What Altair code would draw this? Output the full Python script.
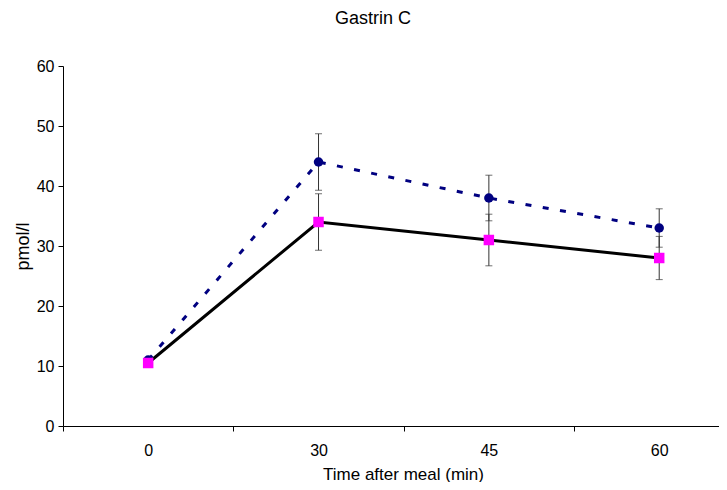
import altair as alt
import pandas as pd

# ---- data ----
times = ["0", "30", "45", "60"]
pos = [0, 1, 2, 3]
blue_mean = [11.0, 44.0, 38.0, 33.0]
blue_err = [0.0, 4.7, 3.8, 3.2]
pink_mean = [10.5, 34.0, 31.0, 28.0]
pink_err = [0.0, 4.7, 4.3, 3.6]

blue = pd.DataFrame({"pos": pos, "time": times, "mean": blue_mean, "err": blue_err})
pink = pd.DataFrame({"pos": pos, "time": times, "mean": pink_mean, "err": pink_err})
for d in (blue, pink):
    d["lo"] = d["mean"] - d["err"]
    d["hi"] = d["mean"] + d["err"]

FONT = "Liberation Sans"

label_expr = "datum.value % 1 == 0 ? " + str(times) + "[datum.value] : ''"

x_scale = alt.Scale(domain=[-0.5, 3.351], nice=False, zero=False)
y_scale = alt.Scale(domain=[0, 60], nice=False)

x_axis = alt.Axis(
    values=[-0.5, 0, 0.5, 1, 1.5, 2, 2.5, 3],
    labelExpr=label_expr,
    tickOpacity={"condition": {"test": "datum.value % 1 == 0", "value": 0}, "value": 1},
    title="Time after meal (min)",
    titleX=340,
    titleY=53,
    titleBaseline="alphabetic",
    titleFontSize=17,
    titleFontWeight="normal",
    labelFontSize=16,
    labelPadding=11,
    grid=False,
    tickSize=5,
)
y_axis = alt.Axis(
    values=[0, 10, 20, 30, 40, 50, 60],
    title="pmol/l",
    titleFontSize=18,
    titleFontWeight="normal",
    titlePadding=4,
    labelFontSize=16,
    labelPadding=4,
    grid=False,
    tickSize=5,
)

X = alt.X("pos:Q", scale=x_scale, axis=x_axis)
Y = alt.Y("mean:Q", scale=y_scale, axis=y_axis)

blue_line = alt.Chart(blue).mark_line(
    color="#000080", strokeWidth=3, strokeDash=[6, 11.5]
).encode(x=X, y=Y)
pink_line = alt.Chart(pink).mark_line(color="black", strokeWidth=3).encode(x=X, y=Y)


def errbars(df):
    base = alt.Chart(df).transform_filter("datum.err > 0")
    rule = base.mark_rule(color="#333333", strokeWidth=1).encode(
        x="pos:Q", y="lo:Q", y2="hi:Q"
    )
    cap_lo = base.mark_tick(color="#333333", thickness=1, size=7, orient="horizontal").encode(
        x="pos:Q", y="lo:Q"
    )
    cap_hi = base.mark_tick(color="#333333", thickness=1, size=7, orient="horizontal").encode(
        x="pos:Q", y="hi:Q"
    )
    return rule + cap_lo + cap_hi


blue_pts = alt.Chart(blue).mark_point(
    shape="circle", filled=True, color="#000080", size=90, opacity=1
).encode(x=X, y=Y)
pink_pts = alt.Chart(pink).mark_point(
    shape="square", filled=True, color="#FF00FF", size=110, opacity=1
).encode(x=X, y=Y)

chart = (
    alt.layer(blue_line, pink_line, errbars(blue), errbars(pink), blue_pts, pink_pts)
    .properties(
        width=656,
        height=360,
        autosize=alt.AutoSizeParams(type="none"),
        padding={"left": 55, "top": 58, "right": 0, "bottom": 56},
        title=alt.TitleParams(
            "Gastrin C",
            fontSize=18,
            fontWeight="normal",
            font=FONT,
            color="black",
            anchor="middle",
            dx=-18,
            offset=30,
        ),
    )
    .configure_view(stroke=None)
    .configure_axis(
        domainColor="black",
        tickColor="black",
        labelColor="black",
        titleColor="black",
        labelFont=FONT,
        titleFont=FONT,
        domainWidth=1,
        tickWidth=1,
    )
)

chart.save("out.html", embed_options={"renderer": "svg", "actions": False})
